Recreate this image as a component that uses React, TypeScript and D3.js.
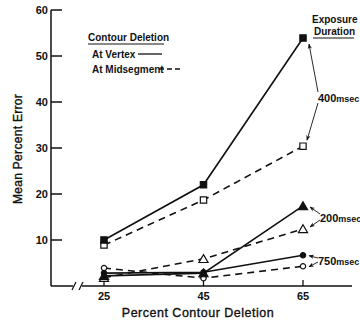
import React from "react";
import * as d3 from "d3";

const xCats = [25, 45, 65];
const yTicks = [10, 20, 30, 40, 50, 60];
const vertex400 = [10.0, 22.0, 53.9];
const mid400 = [8.9, 18.7, 30.4];
const vertex200 = [2.2, 2.8, 17.4];
const mid200 = [1.8, 5.9, 12.4];
const vertex750 = [2.8, 3.0, 6.7];
const mid750 = [3.9, 1.7, 4.3];

const W = 360;
const H = 321;
const FONT = "'Liberation Sans', Arial, sans-serif";

type Sym = "square" | "triangle" | "circle";
interface S { vals: number[]; dashed: boolean; filled: boolean; sym: Sym }

const series: S[] = [
  { vals: mid400, dashed: true, filled: false, sym: "square" },
  { vals: mid200, dashed: true, filled: false, sym: "triangle" },
  { vals: mid750, dashed: true, filled: false, sym: "circle" },
  { vals: vertex400, dashed: false, filled: true, sym: "square" },
  { vals: vertex200, dashed: false, filled: true, sym: "triangle" },
  { vals: vertex750, dashed: false, filled: true, sym: "circle" },
];

export default function App() {
  const x = d3.scaleLinear().domain([25, 65]).range([104, 303]);
  const y = d3.scaleLinear().domain([0, 60]).range([286, 10]);
  const line = d3
    .line<number>()
    .x((_, i) => x(xCats[i]))
    .y((d) => y(d));

  const symGen = (s: Sym) => {
    const type = s === "square" ? d3.symbolSquare : s === "triangle" ? d3.symbolTriangle : d3.symbolCircle;
    const size = s === "square" ? 40 : s === "triangle" ? 36 : 22;
    return d3.symbol().type(type).size(size)()!;
  };

  const x65 = x(65);
  const arrows = [
    { from: [318, 92], to: [x65 + 6, y(vertex400[2]) + 6] },
    { from: [318, 103], to: [x65 + 4, y(mid400[2]) - 6] },
    { from: [320, 214], to: [x65 + 7, y(vertex200[2]) + 1] },
    { from: [320, 220], to: [x65 + 7, y(mid200[2]) - 2] },
    { from: [318, 258], to: [x65 + 6, y(vertex750[2]) + 0.5] },
    { from: [318, 262], to: [x65 + 6, y(mid750[2]) + 0.5] },
  ];

  return (
    <svg
      width={W}
      height={H}
      style={{ position: "absolute", left: 0, top: 0, background: "#fff" }}
      fontFamily={FONT}
    >
      <defs>
        <marker id="ah" viewBox="0 0 10 10" refX="9" refY="5" markerWidth="6" markerHeight="6" orient="auto">
          <path d="M0,1 L10,5 L0,9 L3,5 z" fill="#111" />
        </marker>
      </defs>

      {/* Y axis */}
      <line x1={51} y1={y(60)} x2={51} y2={y(0)} stroke="#111" strokeWidth={1.5} />
      {yTicks.map((t) => (
        <g key={t}>
          <line x1={51} x2={62} y1={y(t)} y2={y(t)} stroke="#111" strokeWidth={1.5} />
          <text x={48} y={y(t)} dy="0.36em" textAnchor="end" fontSize={11} fontWeight="bold" fill="#111">
            {t}
          </text>
        </g>
      ))}

      {/* X axis with break */}
      <line x1={51} y1={y(0)} x2={73} y2={y(0)} stroke="#111" strokeWidth={1.5} />
      <line x1={82} y1={y(0)} x2={352} y2={y(0)} stroke="#111" strokeWidth={1.5} />
      <line x1={72} y1={y(0) + 4} x2={76} y2={y(0) - 4} stroke="#111" strokeWidth={1.2} />
      <line x1={79} y1={y(0) + 4} x2={83} y2={y(0) - 4} stroke="#111" strokeWidth={1.2} />
      {xCats.map((c) => (
        <g key={c}>
          <line x1={x(c)} x2={x(c)} y1={y(0)} y2={y(0) - 6} stroke="#111" strokeWidth={1.3} />
          <text x={x(c)} y={300} textAnchor="middle" fontSize={11} fontWeight="bold" fill="#111">
            {c}
          </text>
        </g>
      ))}

      {/* Axis titles */}
      <text x={198} y={317} textAnchor="middle" fontSize={12.5} fill="#111" stroke="#111" strokeWidth={0.35} letterSpacing={0.5}>
        Percent Contour Deletion
      </text>
      <text
        transform="translate(22,149) rotate(-90)"
        textAnchor="middle"
        fontSize={12}
        fill="#111"
        stroke="#111"
        strokeWidth={0.35}
        letterSpacing={0.3}
      >
        Mean Percent Error
      </text>

      {/* Lines */}
      {series.map((s, i) => (
        <path
          key={"l" + i}
          d={line(s.vals)!}
          fill="none"
          stroke="#111"
          strokeWidth={1.6}
          strokeDasharray={s.dashed ? "7,5" : undefined}
        />
      ))}

      {/* Markers */}
      {series.map((s, i) =>
        s.vals.map((v, j) => (
          <path
            key={"m" + i + "-" + j}
            d={symGen(s.sym)}
            transform={`translate(${x(xCats[j])},${y(v) + (s.sym === "triangle" ? 1 : 0)})`}
            fill={s.filled ? "#111" : "#fff"}
            stroke="#111"
            strokeWidth={1.2}
          />
        ))
      )}

      {/* Legend */}
      <text x={88} y={41} fontSize={10} fontWeight="bold" fill="#111">Contour Deletion</text>
      <line x1={88} x2={164} y1={44} y2={44} stroke="#111" strokeWidth={1} />
      <text x={92} y={58} fontSize={10} fontWeight="bold" fill="#111">At Vertex</text>
      <line x1={138} x2={162} y1={54} y2={54} stroke="#111" strokeWidth={1.3} />
      <text x={92} y={73} fontSize={10} fontWeight="bold" fill="#111">At Midsegment</text>
      <line x1={159} x2={181} y1={69} y2={69} stroke="#111" strokeWidth={1.3} strokeDasharray="5,3" />

      <text x={312} y={23} fontSize={10} fontWeight="bold" fill="#111">Exposure</text>
      <text x={314} y={35} fontSize={10} fontWeight="bold" fill="#111">Duration</text>
      <line x1={313} x2={354} y1={38} y2={38} stroke="#111" strokeWidth={1} />

      {/* Duration labels */}
      <text x={318} y={102} fontSize={11} fontWeight="bold" fill="#111">
        400<tspan fontSize={9}>msec</tspan>
      </text>
      <text x={320} y={222} fontSize={11} fontWeight="bold" fill="#111">
        200<tspan fontSize={9}>msec</tspan>
      </text>
      <text x={318} y={265} fontSize={11} fontWeight="bold" fill="#111">
        750<tspan fontSize={9}>msec</tspan>
      </text>

      {arrows.map((a, i) => (
        <line
          key={"a" + i}
          x1={a.from[0]}
          y1={a.from[1]}
          x2={a.to[0]}
          y2={a.to[1]}
          stroke="#111"
          strokeWidth={0.9}
          markerEnd="url(#ah)"
        />
      ))}
    </svg>
  );
}
